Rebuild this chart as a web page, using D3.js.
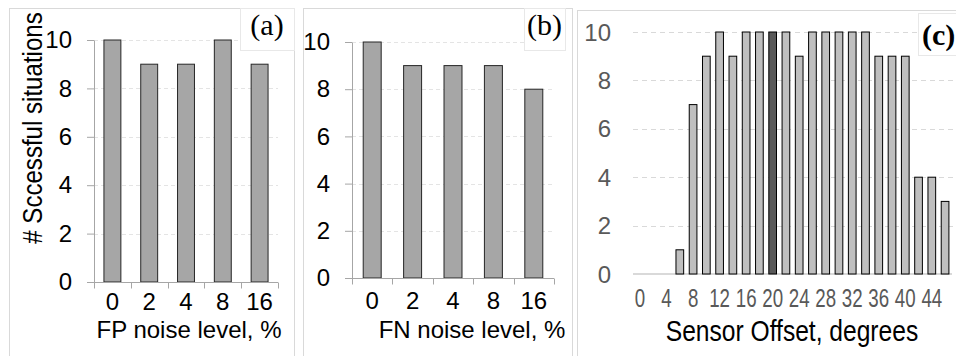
<!DOCTYPE html>
<html>
<head>
<meta charset="utf-8">
<script src="https://cdn.jsdelivr.net/npm/d3@7"></script>
<style>
  body { margin: 0; background: #fff; }
  svg { display: block; }
</style>
</head>
<body>
<svg id="chart" width="956" height="356" font-family="Liberation Sans, Arial, sans-serif"></svg>
<script>
// Data
const fpLevels = ['0', '2', '4', '8', '16'];
const fpSuccess = [10, 9, 9, 10, 9];

const fnLevels = ['0', '2', '4', '8', '16'];
const fnSuccess = [10, 9, 9, 9, 8];

const offsets = [0, 2, 4, 6, 8, 10, 12, 14, 16, 18, 20, 22, 24, 26, 28, 30, 32, 34, 36, 38, 40, 42, 44, 46];
const offsetSuccess = [0, 0, 0, 1, 7, 9, 10, 9, 10, 10, 10, 10, 9, 10, 10, 10, 10, 10, 9, 9, 9, 4, 4, 3];
const offsetTickLabels = [0, 4, 8, 12, 16, 20, 24, 28, 32, 36, 40, 44];
const highlightOffset = 20;

const yTicks = [0, 2, 4, 6, 8, 10];

const SANS = 'Liberation Sans, Arial, sans-serif';
const SERIF = 'Liberation Serif, Times New Roman, serif';

const svg = d3.select('#chart');

// panel frames
const frames = [
    { x: 9, y: 8, w: 285 },
    { x: 303, y: 8, w: 269 },
    { x: 577, y: 10, w: 400 }
];
frames.forEach(f => {
    svg.append('rect')
        .attr('x', f.x + 0.5).attr('y', f.y + 0.5)
        .attr('width', f.w).attr('height', 380)
        .attr('fill', 'none')
        .attr('stroke', '#d9d9d9');
});

// small bar panels (a) and (b)
function smallPanel(opts) {
    const x = d3.scaleBand()
        .domain(opts.cats)
        .range([opts.x0, opts.x1])
        .paddingInner(opts.pad)
        .paddingOuter(opts.pad / 2);
    const y = d3.scaleLinear().domain([0, 10]).range([opts.y0, opts.y1]);
    const g = svg.append('g');

    // gridlines
    g.append('g').selectAll('line')
        .data(yTicks.filter(t => t > 0))
        .enter().append('line')
        .attr('x1', opts.x0).attr('x2', opts.x1)
        .attr('y1', d => Math.round(y(d)) + 0.5)
        .attr('y2', d => Math.round(y(d)) + 0.5)
        .attr('stroke', '#e4e4e4')
        .attr('stroke-dasharray', '4,3');

    // bars
    g.append('g').selectAll('rect')
        .data(opts.values)
        .enter().append('rect')
        .attr('x', (d, i) => x(opts.cats[i]))
        .attr('y', d => y(d))
        .attr('width', x.bandwidth())
        .attr('height', d => y(0) - y(d))
        .attr('fill', '#a6a6a6')
        .attr('stroke', '#262626')
        .attr('stroke-width', 1);

    // y axis
    const yAxis = g.append('g')
        .attr('transform', `translate(${opts.x0},0)`)
        .call(d3.axisLeft(y).tickValues(yTicks).tickSize(7).tickSizeOuter(0).tickPadding(15));
    yAxis.select('.domain').attr('stroke', '#a6a6a6');
    yAxis.selectAll('.tick line').attr('stroke', '#a6a6a6');
    yAxis.selectAll('.tick text')
        .attr('font-size', 24)
        .attr('font-family', SANS)
        .attr('fill', '#000');

    // x axis line with ticks at band boundaries
    const baseY = Math.round(y(0)) + 0.5;
    g.append('line')
        .attr('x1', opts.x0).attr('x2', opts.x1)
        .attr('y1', baseY).attr('y2', baseY)
        .attr('stroke', '#a6a6a6');
    const bounds = d3.range(opts.cats.length + 1).map(i => x.range()[0] + i * x.step());
    g.append('g').selectAll('line')
        .data(bounds)
        .enter().append('line')
        .attr('x1', d => Math.round(d) + 0.5).attr('x2', d => Math.round(d) + 0.5)
        .attr('y1', baseY).attr('y2', baseY + 6)
        .attr('stroke', '#a6a6a6');

    g.append('g').selectAll('text')
        .data(opts.cats)
        .enter().append('text')
        .attr('x', d => x(d) + x.bandwidth() / 2)
        .attr('y', opts.tickY)
        .attr('text-anchor', 'middle')
        .attr('font-size', 24)
        .text(d => d);

    g.append('text')
        .attr('x', opts.titleX)
        .attr('y', 338)
        .attr('text-anchor', 'middle')
        .attr('font-size', 24)
        .text(opts.title);

    // panel label
    svg.append('rect')
        .attr('x', opts.box[0] + 0.5).attr('y', opts.box[1] + 0.5)
        .attr('width', opts.box[2]).attr('height', opts.box[3])
        .attr('fill', '#fff')
        .attr('stroke', '#e8e8e8');
    svg.append('text')
        .attr('x', opts.box[0] + opts.box[2] / 2)
        .attr('y', opts.box[1] + 27)
        .attr('text-anchor', 'middle')
        .attr('font-family', SERIF)
        .attr('font-size', 30)
        .text(opts.label);
}

smallPanel({
    cats: fpLevels, values: fpSuccess,
    x0: 94, x1: 278, y0: 282, y1: 40, pad: 0.54,
    tickY: 310, titleX: 189, title: 'FP noise level, %',
    box: [240, 8, 54, 42], label: '(a)'
});

smallPanel({
    cats: fnLevels, values: fnSuccess,
    x0: 352, x1: 554, y0: 278, y1: 42, pad: 0.555,
    tickY: 309, titleX: 472, title: 'FN noise level, %',
    box: [524, 8, 41, 42], label: '(b)'
});

// y-axis title on the left
svg.append('text')
    .attr('transform', 'translate(42,128) rotate(-90) scale(0.86,1)')
    .attr('text-anchor', 'middle')
    .attr('font-size', 28)
    .text('# Sccessful situations');

// panel (c): sensor offset
const xc = d3.scaleBand()
    .domain(offsets)
    .range([633.4, 951.7])
    .paddingInner(0.42)
    .paddingOuter(0.21);
const yc = d3.scaleLinear().domain([0, 10]).range([274, 32]);
const gc = svg.append('g');

gc.append('g').selectAll('line')
    .data(yTicks.filter(t => t > 0))
    .enter().append('line')
    .attr('x1', 633).attr('x2', 956)
    .attr('y1', d => Math.round(yc(d)) + 0.5)
    .attr('y2', d => Math.round(yc(d)) + 0.5)
    .attr('stroke', '#d9d9d9')
    .attr('stroke-dasharray', '5,4');

gc.append('line')
    .attr('x1', 633).attr('x2', 952)
    .attr('y1', yc(0)).attr('y2', yc(0))
    .attr('stroke', '#d9d9d9')
    .attr('stroke-width', 2);

gc.append('g').selectAll('rect')
    .data(offsets.map((o, i) => ({ o, v: offsetSuccess[i] })).filter(d => d.v > 0))
    .enter().append('rect')
    .attr('x', d => xc(d.o))
    .attr('y', d => yc(d.v))
    .attr('width', xc.bandwidth())
    .attr('height', d => yc(0) - yc(d.v))
    .attr('fill', d => d.o === highlightOffset ? '#595959' : '#bfbfbf')
    .attr('stroke', '#000')
    .attr('stroke-width', 1);

gc.append('g').selectAll('text')
    .data(yTicks)
    .enter().append('text')
    .attr('x', 611)
    .attr('y', d => yc(d) + 8.5)
    .attr('text-anchor', 'end')
    .attr('font-size', 24)
    .attr('fill', '#595959')
    .text(d => d);

gc.append('g').selectAll('text')
    .data(offsetTickLabels)
    .enter().append('text')
    .attr('transform', d => `translate(${xc(d) + xc.bandwidth() / 2},307) scale(0.72,1)`)
    .attr('text-anchor', 'middle')
    .attr('font-size', 26)
    .attr('fill', '#595959')
    .text(d => d);

gc.append('text')
    .attr('transform', 'translate(792,341) scale(0.82,1)')
    .attr('text-anchor', 'middle')
    .attr('font-size', 30)
    .text('Sensor Offset, degrees');

svg.append('rect')
    .attr('x', 918.5).attr('y', 13.5)
    .attr('width', 50).attr('height', 42)
    .attr('fill', '#fff')
    .attr('stroke', '#e8e8e8');
svg.append('text')
    .attr('x', 922)
    .attr('y', 45)
    .attr('font-family', SERIF)
    .attr('font-weight', 'bold')
    .attr('font-size', 30)
    .text('(c)');
</script>
</body>
</html>
